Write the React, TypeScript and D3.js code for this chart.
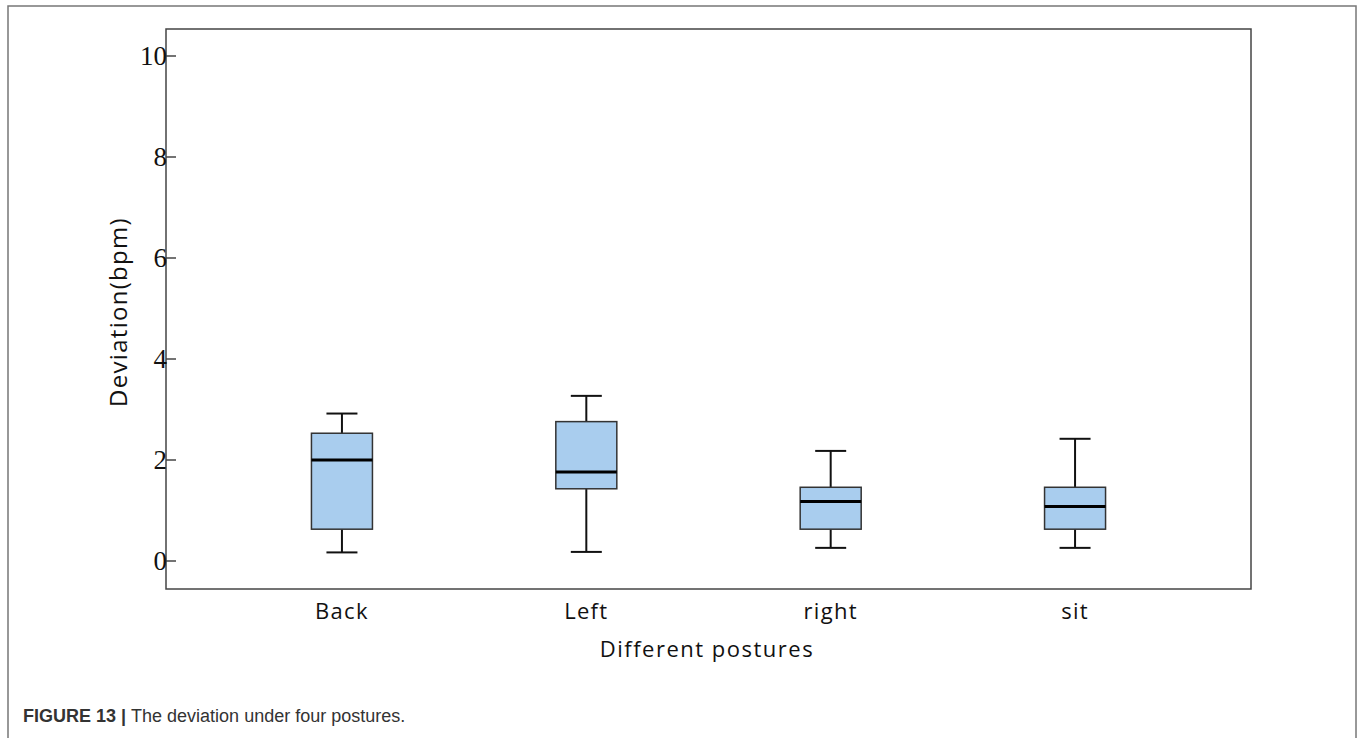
import React from "react";
import * as d3 from "d3";

const categories = ["Back", "Left", "right", "sit"];
const whiskerLow = [0.17, 0.18, 0.26, 0.26];
const q1 = [0.63, 1.43, 0.63, 0.63];
const median = [2.0, 1.76, 1.18, 1.08];
const q3 = [2.53, 2.76, 1.46, 1.46];
const whiskerHigh = [2.92, 3.27, 2.18, 2.42];
const yTicks = [0, 2, 4, 6, 8, 10];

const W = 1357;
const H = 738;
const plot = { left: 166, right: 1251, top: 29, bottom: 589 };

export default function App() {
  const y = d3.scaleLinear().domain([0, 10]).range([561, 56]);
  const x = d3.scalePoint<string>().domain(categories).range([plot.left, plot.right]).padding(0.72);
  const boxW = 61;
  const capW = 31;
  const sans = "'Open Sans', 'Noto Sans', sans-serif";
  return (
    <svg width={W} height={H} style={{ position: "absolute", left: 0, top: 0 }}>
      <rect x={0} y={0} width={W} height={H} fill="#fff" />
      <rect x={8} y={6} width={1348} height={740} fill="none" stroke="#777" strokeWidth={1.5} />
      <rect x={plot.left} y={plot.top} width={plot.right - plot.left} height={plot.bottom - plot.top} fill="#fff" stroke="#444" strokeWidth={1.5} />
      {yTicks.map((t) => (
        <g key={t}>
          <line x1={plot.left} x2={plot.left + 10} y1={y(t)} y2={y(t)} stroke="#444" strokeWidth={1.5} />
          <text x={plot.left + 1} y={y(t) + 9} textAnchor="end" fontFamily="'Liberation Serif', serif" fontSize={27} fill="#111">{t}</text>
        </g>
      ))}
      {categories.map((c, i) => {
        const cx = x(c)!;
        return (
          <g key={c}>
            <line x1={cx} x2={cx} y1={y(whiskerHigh[i])} y2={y(q3[i])} stroke="#111" strokeWidth={2} />
            <line x1={cx} x2={cx} y1={y(q1[i])} y2={y(whiskerLow[i])} stroke="#111" strokeWidth={2} />
            <line x1={cx - capW / 2} x2={cx + capW / 2} y1={y(whiskerHigh[i])} y2={y(whiskerHigh[i])} stroke="#111" strokeWidth={2} />
            <line x1={cx - capW / 2} x2={cx + capW / 2} y1={y(whiskerLow[i])} y2={y(whiskerLow[i])} stroke="#111" strokeWidth={2} />
            <rect x={cx - boxW / 2} y={y(q3[i])} width={boxW} height={y(q1[i]) - y(q3[i])} fill="#a9cdee" stroke="#333" strokeWidth={1.5} />
            <line x1={cx - boxW / 2} x2={cx + boxW / 2} y1={y(median[i])} y2={y(median[i])} stroke="#000" strokeWidth={3} />
            <text x={cx} y={619} textAnchor="middle" fontFamily={sans} fontSize={22} letterSpacing={1.3} fill="#111">{c}</text>
          </g>
        );
      })}
      <text x={707} y={657} textAnchor="middle" fontFamily={sans} fontSize={22} letterSpacing={1.5} fill="#111">Different postures</text>
      <text transform={`translate(127,312) rotate(-90)`} textAnchor="middle" fontFamily={sans} fontSize={24} letterSpacing={1.3} fill="#111">Deviation(bpm)</text>
      <text x={23} y={722} fontFamily="'Liberation Sans', Arial, sans-serif" fontSize={18} fill="#333">
        <tspan fontWeight="bold">FIGURE 13 | </tspan>
        <tspan>The deviation under four postures.</tspan>
      </text>
    </svg>
  );
}
